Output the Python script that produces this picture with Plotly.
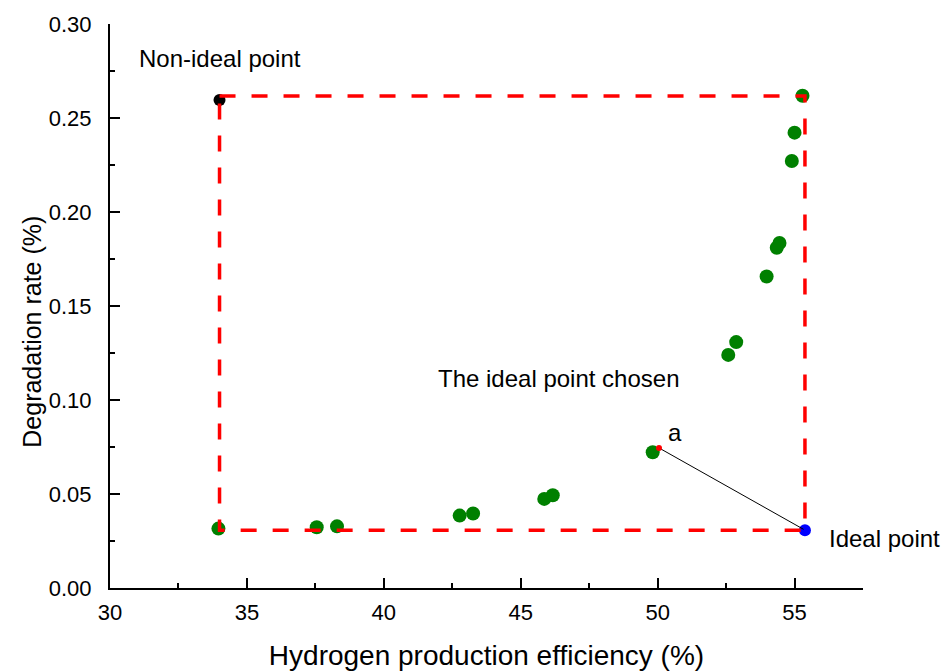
import plotly.graph_objects as go

# ---- data ----
eff = [33.96, 37.55, 38.29, 42.77, 43.26, 45.86, 46.17, 49.82, 52.58, 52.87,
       53.98, 54.35, 54.45, 54.90, 55.00, 55.29]
deg = [0.0316, 0.0323, 0.0328, 0.0385, 0.0396, 0.0474, 0.0493, 0.0722, 0.1240, 0.1308,
       0.1657, 0.1810, 0.1835, 0.2271, 0.2422, 0.2618]

nonideal_x = [34.0]
nonideal_y = [0.2596]
ideal_x = [55.38]
ideal_y = [0.0307]

rect_x = [34.0, 55.38, 55.38, 34.0, 34.0]
rect_y = [0.2617, 0.2617, 0.0307, 0.0307, 0.2617]

link_x = [50.05, 55.33]
link_y = [0.0745, 0.0312]

x_ticks = [30, 35, 40, 45, 50, 55]
y_ticks = [0.00, 0.05, 0.10, 0.15, 0.20, 0.25, 0.30]

FONT = "Liberation Sans, Arial, sans-serif"

fig = go.Figure()
fig.add_trace(go.Scatter(x=eff, y=deg, mode="markers",
                         marker=dict(color="#008000", size=14, line=dict(width=0)),
                         showlegend=False, hoverinfo="skip"))
fig.add_trace(go.Scatter(x=nonideal_x, y=nonideal_y, mode="markers",
                         marker=dict(color="#000000", size=12, line=dict(width=0)),
                         showlegend=False))
fig.add_trace(go.Scatter(x=ideal_x, y=ideal_y, mode="markers",
                         marker=dict(color="#0000ff", size=12, line=dict(width=0)),
                         showlegend=False))
fig.add_trace(go.Scatter(x=rect_x, y=rect_y, mode="lines",
                         line=dict(color="#ff0000", width=3.5, dash="16px,16px"),
                         showlegend=False))
fig.add_trace(go.Scatter(x=link_x, y=link_y, mode="lines",
                         line=dict(color="#000000", width=1),
                         showlegend=False))
fig.add_trace(go.Scatter(x=link_x[:1], y=link_y[:1], mode="markers",
                         marker=dict(color="#ff0000", size=6, line=dict(width=0)),
                         showlegend=False))

txt = dict(size=24, color="#000000", family=FONT)
fig.add_annotation(x=34.0, y=0.2815, text="Non-ideal point", showarrow=False,
                   font=txt, xanchor="center", yanchor="middle")
fig.add_annotation(x=46.4, y=0.1117, text="The ideal point chosen", showarrow=False,
                   font=txt, xanchor="center", yanchor="middle")
fig.add_annotation(x=50.63, y=0.0826, text="a", showarrow=False,
                   font=txt, xanchor="center", yanchor="middle")
fig.add_annotation(x=56.2, y=0.0264, text="Ideal point", showarrow=False,
                   font=txt, xanchor="left", yanchor="middle")

# y-axis title (placed as rotated text beside the axis)
fig.add_annotation(x=0, xref="paper", xanchor="center", xshift=-78,
                   y=0.4544, yref="paper", yanchor="middle",
                   text="Degradation rate (%)", textangle=-90, showarrow=False,
                   font=dict(size=25, color="#000000", family=FONT))

axis_common = dict(showline=True, linecolor="#000000", linewidth=2,
                   ticks="inside", ticklen=10, tickwidth=2, tickcolor="#000000",
                   showgrid=False, zeroline=False, mirror=False, automargin=False,
                   tickfont=dict(size=22, color="#000000", family=FONT))

fig.update_xaxes(range=[30, 57.5], tickvals=x_ticks, ticktext=[str(v) for v in x_ticks],
                 minor=dict(ticks="inside", ticklen=5, tickwidth=2, tickcolor="#000000",
                            dtick=2.5, tick0=30),
                 ticklabelstandoff=4,
                 title=dict(text="Hydrogen production efficiency (%)",
                            font=dict(size=28, color="#000000", family=FONT), standoff=22),
                 **axis_common)
fig.update_yaxes(range=[0, 0.30], tickvals=y_ticks, ticktext=[f"{v:.2f}" for v in y_ticks],
                 minor=dict(ticks="inside", ticklen=5, tickwidth=2, tickcolor="#000000",
                            dtick=0.025, tick0=0),
                 ticklabelstandoff=12,
                 **axis_common)

fig.update_layout(width=951, height=671, autosize=False,
                  margin=dict(l=110, r=88, t=24, b=83, pad=0),
                  plot_bgcolor="#ffffff", paper_bgcolor="#ffffff",
                  showlegend=False)

fig.write_html("out.html")
